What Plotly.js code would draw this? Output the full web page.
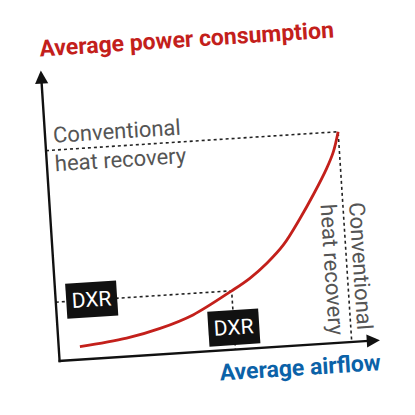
<!DOCTYPE html>
<html>
<head>
<meta charset="utf-8">
<script src="https://cdn.plot.ly/plotly-3.0.1.min.js"></script>
<style>
html,body{margin:0;padding:0;background:#fff;overflow:hidden;}
#chart{width:415px;height:415px;transform:rotate(-3.7deg);transform-origin:207.5px 207.5px;}
</style>
</head>
<body>
<div id="chart"></div>
<script>
// Curve (x: airflow, y: power), arbitrary 0-100 units
const airflow = [6.6, 21.3, 31.9, 42.4, 54.9, 60.8, 66.4, 71.9, 77.6, 82.3, 86.9, 89.3, 91.2];
const power   = [4.4, 6.3, 8.9, 12.8, 20.2, 24.1, 28.9, 34.8, 43.5, 51.5, 60.1, 65.6, 72.4];
// Operating points
const pointNames = ["DXR", "Conventional\nheat recovery"];
const pointX = [54.9, 91.2];
const pointY = [20.2, 72.4];
const xTitle = "Average airflow";
const yTitle = "Average power consumption";

const FONT = 'Roboto, "Liberation Sans", sans-serif';
const red = '#c3201b';
const blue = '#0b62a8';

const traces = [];
// dotted guide lines from each operating point to both axes
for (let i = 0; i < pointX.length; i++) {
  traces.push({
    x: [0, pointX[i], pointX[i]],
    y: [pointY[i], pointY[i], 0],
    mode: 'lines', type: 'scatter', hoverinfo: 'skip',
    line: {color: '#222', width: 1.6, dash: 'dot'}
  });
}
traces.push({
  x: airflow, y: power, mode: 'lines', type: 'scatter',
  line: {color: red, width: 2.8, shape: 'spline', smoothing: 1.0}
});

const annotations = [
  // axis arrows
  {x: 100, y: 0, ax: -0.8, ay: 0, xref: 'x', yref: 'y', axref: 'x', ayref: 'y',
   showarrow: true, arrowhead: 2, arrowsize: 1.1, arrowwidth: 2.4, arrowcolor: '#111', text: ''},
  {x: 0, y: 100, ax: 0, ay: -1, xref: 'x', yref: 'y', axref: 'x', ayref: 'y',
   showarrow: true, arrowhead: 2, arrowsize: 1.1, arrowwidth: 2.4, arrowcolor: '#111', text: ''},
  // axis titles
  {x: -0.006, y: 1.075, xref: 'paper', yref: 'paper', xanchor: 'left', yanchor: 'middle',
   showarrow: false, text: '<b>' + yTitle + '</b>', font: {family: FONT, size: 23, color: red}},
  {x: 1.003, y: -0.078, xref: 'paper', yref: 'paper', xanchor: 'right', yanchor: 'middle',
   showarrow: false, text: '<b>' + xTitle + '</b>', font: {family: FONT, size: 23, color: blue}},
  // DXR labels
  {x: 11.1, y: pointY[0], xref: 'x', yref: 'y', showarrow: false, text: pointNames[0],
   bgcolor: '#111', borderpad: 5, font: {family: FONT, size: 21, color: '#fff'}},
  {x: pointX[0], y: 7.6, xref: 'x', yref: 'y', showarrow: false, text: pointNames[0],
   bgcolor: '#111', borderpad: 5, font: {family: FONT, size: 21, color: '#fff'}},
  // Conventional heat recovery labels
  {x: 23.1, y: pointY[1], xref: 'x', yref: 'y', showarrow: false, align: 'left',
   text: pointNames[1].replace('\n', '<br>'), font: {family: FONT, size: 22, color: '#555'}},
  {x: pointX[1] - 0.2, y: 25.1, xref: 'x', yref: 'y', showarrow: false, textangle: 90, align: 'left',
   text: pointNames[1].replace('\n', '<br>'), font: {family: FONT, size: 22, color: '#555'}}
];

const layout = {
  width: 415, height: 415,
  margin: {l: 50, r: 44, t: 60, b: 64},
  paper_bgcolor: 'rgba(0,0,0,0)', plot_bgcolor: 'rgba(0,0,0,0)',
  showlegend: false,
  xaxis: {range: [0, 100], showgrid: false, zeroline: false, showticklabels: false, ticks: '',
          showline: false, fixedrange: true},
  yaxis: {range: [0, 100], showgrid: false, zeroline: false, showticklabels: false, ticks: '',
          showline: false, fixedrange: true},
  annotations: annotations
};

Plotly.newPlot('chart', traces, layout, {displayModeBar: false, staticPlot: true});
</script>
</body>
</html>
